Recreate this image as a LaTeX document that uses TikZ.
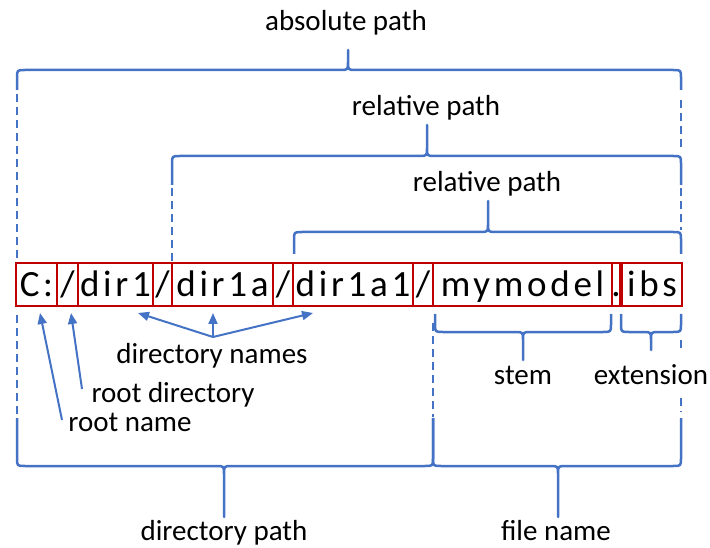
\documentclass[tikz,border=0pt]{standalone}
\usepackage{fontspec}
\setmainfont{Carlito}
\newfontfamily\pathfont[LetterSpace=10]{Carlito}
\usetikzlibrary{arrows.meta,calc}
\definecolor{bblue}{HTML}{4472C4}
\definecolor{bred}{HTML}{C00000}
% x1, x2, xtip, yline, ytip, yend
\newcommand\bracepath[6]{%
  \draw[bracestyle] (#1,#6) -- ($(#1,#4)!8pt!(#1,#6)$) .. controls (#1,#4) .. (#1+8,#4)
    -- (#3-8,#4) .. controls (#3,#4) .. ($(#3,#4)!8pt!(#3,#5)$) -- (#3,#5)
    -- ($(#3,#4)!8pt!(#3,#5)$) .. controls (#3,#4) .. (#3+8,#4)
    -- (#2-8,#4) .. controls (#2,#4) .. ($(#2,#4)!8pt!(#2,#6)$) -- (#2,#6);}
\tikzset{
  bracestyle/.style={draw=bblue, line width=2.5pt, line join=round},
  dashline/.style={draw=bblue, line width=2.5pt, dash pattern=on 8pt off 5pt},
  pbox/.style={draw=bred, line width=2.2pt, inner sep=0pt, minimum height=43pt,
    text height=34pt, text depth=9pt, font=\fontsize{37}{44}\pathfont},
  lbl/.style={anchor=base, inner sep=0pt, font=\fontsize{29}{34}\selectfont},
  arr/.style={draw=bblue, line width=2pt, -{Triangle[length=11pt,width=9pt]}}
}
\begin{document}
\begin{tikzpicture}[x=1pt,y=-1pt]
\useasboundingbox (0,0) rectangle (710,548);

% path boxes
\node[pbox, minimum width=41pt]  (b1)  at (36.5,284.5)  {\makebox[0pt]{C:}};
\node[pbox, minimum width=21pt]  (b2)  at (67.5,284.5)  {\makebox[0pt]{/}};
\node[pbox, minimum width=75pt]  (b3)  at (115.5,284.5) {\makebox[0pt]{dir1}};
\node[pbox, minimum width=19pt]  (b4)  at (162.5,284.5) {\makebox[0pt]{/}};
\node[pbox, minimum width=101pt] (b5)  at (222.5,284.5) {\makebox[0pt]{dir1a}};
\node[pbox, minimum width=20pt]  (b6)  at (283,284.5)   {\makebox[0pt]{/}};
\node[pbox, minimum width=120pt] (b7)  at (353,284.5)   {\makebox[0pt]{dir1a1}};
\node[pbox, minimum width=20pt]  (b8)  at (423,284.5)   {\makebox[0pt]{/}};
\node[pbox, minimum width=179pt] (b9)  at (522.5,284.5) {\makebox[0pt]{mymodel}};
\node[pbox, minimum width=8pt]   (b10) at (616,284.5)   {\makebox[0pt]{.}};
\node[pbox, minimum width=60pt]  (b11) at (652,284.5)   {\makebox[0pt]{ibs}};

% labels
\node[lbl] (abs)      at (346,31)  {absolute path};
\node[lbl] (rel1)     at (426,116) {relative path};
\node[lbl] (rel2)     at (487,192) {relative path};
\node[lbl] (dirnames) at (212,363) {directory names};
\node[lbl] (rootdir)  at (173,402) {root directory};
\node[lbl] (rootname) at (130,431) {root name};
\node[lbl] (stem)     at (523,384) {stem};
\node[lbl] (ext)      at (651,384) {extension};
\node[lbl] (dirpath)  at (224,540) {directory path};
\node[lbl] (filename) at (556,540) {file name};

% top braces
\bracepath{17}{681}{348}{70}{50}{90}
\bracepath{172}{681}{427}{156}{125}{185}
\bracepath{294}{681}{488}{232}{201}{254}
% dashed extensions (top)
\draw[dashline] (17,94) -- (17,263);
\draw[dashline] (172,188) -- (172,263);
\draw[dashline] (681,100) -- (681,150);
\draw[dashline] (681,188) -- (681,230);

% small braces
\bracepath{435}{611}{523}{332}{360}{314}
\bracepath{621}{681}{651}{332}{350}{314}

% bottom braces
\bracepath{17}{433}{224}{466}{517}{418}
\bracepath{433}{681}{558}{466}{517}{418}
% dashed extensions (bottom)
\draw[dashline] (17,315) -- (17,417);
\draw[dashline] (433,323) -- (433,417);
\draw[dashline] (681,340) -- (681,352);
\draw[dashline] (681,398) -- (681,412);

% arrows
\coordinate (rnTail) at (62,420);
\coordinate (rnTip)  at (40,313);
\coordinate (rdTail) at (82,389);
\coordinate (rdTip)  at (71,313);
\coordinate (hub)    at (213,337);
\coordinate (dn1)    at (138,313);
\coordinate (dn2)    at (213,313);
\coordinate (dn3)    at (313,313);
\draw[arr] (rnTail) -- (rnTip);
\draw[arr] (rdTail) -- (rdTip);
\draw[arr] (hub) -- (dn1);
\draw[arr] (hub) -- (dn2);
\draw[arr] (hub) -- (dn3);
\end{tikzpicture}
\end{document}
